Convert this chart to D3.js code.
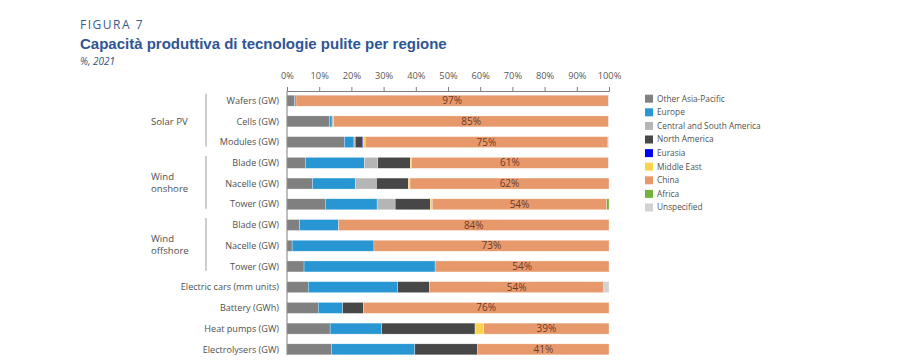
<!DOCTYPE html>
<html>
<head>
<meta charset="utf-8">
<script src="https://cdn.jsdelivr.net/npm/d3@7"></script>
<style>
  body { margin: 0; background: #fff; }
  svg { display: block; font-family: "Open Sans", "Noto Sans", sans-serif; }
</style>
</head>
<body>
<svg id="chart" width="903" height="360"></svg>
<script>
// ---- Data ----
const categories = ["Wafers (GW)", "Cells (GW)", "Modules (GW)", "Blade (GW)", "Nacelle (GW)", "Tower (GW)",
  "Blade (GW)", "Nacelle (GW)", "Tower (GW)", "Electric cars (mm units)", "Battery (GWh)", "Heat pumps (GW)", "Electrolysers (GW)"];
const groups = [
  { name: ["Solar PV"], from: 0, to: 2 },
  { name: ["Wind", "onshore"], from: 3, to: 5 },
  { name: ["Wind", "offshore"], from: 6, to: 8 }
];
const seriesNames = ["Other Asia-Pacific", "Europe", "Central and South America", "North America", "Eurasia", "Middle East", "China", "Africa", "Unspecified"];
const otherAsiaPacific = [2.4, 13.2, 17.8, 5.7, 7.9, 11.9, 3.9, 1.6, 5.3, 6.6, 9.7, 13.4, 13.8];
const europe           = [0.4, 0.8, 3.0, 18.3, 13.4, 16.1, 12.1, 25.4, 40.7, 27.8, 7.6, 16.0, 25.9];
const centralSouthAm   = [0, 0.5, 0.4, 4.2, 6.5, 5.6, 0, 0, 0, 0, 0, 0, 0];
const northAmerica     = [0, 0, 2.2, 10.1, 9.9, 10.9, 0, 0, 0, 9.8, 6.4, 29.0, 19.5];
const eurasia          = [0, 0, 0.3, 0, 0, 0, 0, 0, 0, 0, 0, 0, 0];
const middleEast       = [0, 0, 0.6, 0.3, 0.5, 0.6, 0, 0, 0, 0, 0, 2.7, 0];
const china            = [97.0, 85.4, 75.2, 61.2, 61.8, 54.2, 84.0, 73.0, 54.0, 54.2, 76.3, 38.9, 40.8];
const africa           = [0, 0, 0.3, 0, 0, 0.7, 0, 0, 0, 0, 0, 0, 0];
const unspecified      = [0.2, 0.1, 0.2, 0.2, 0, 0, 0, 0, 0, 1.6, 0, 0, 0];
const xTicks = [0, 10, 20, 30, 40, 50, 60, 70, 80, 90, 100];

const seriesValues = [otherAsiaPacific, europe, centralSouthAm, northAmerica, eurasia, middleEast, china, africa, unspecified];
const colors = ["#808080", "#2796d2", "#b5b5b5", "#474747", "#0000f0", "#fbd24e", "#e8996c", "#74b33a", "#d2d2d2"];

// ---- Build table ----
const rows = categories.map((c, i) => {
  const r = { idx: i, label: c };
  seriesNames.forEach((s, k) => r[s] = seriesValues[k][i]);
  return r;
});

const svg = d3.select("#chart");
const x = d3.scaleLinear().domain([0, 100]).range([287, 609]);
const y = d3.scaleBand().domain(d3.range(categories.length)).range([90.3, 359.7]).paddingInner(0.47).paddingOuter(0.235);
const color = d3.scaleOrdinal().domain(seriesNames).range(colors);

// Titles
svg.append("text").attr("x", 80).attr("y", 29).attr("fill", "#3b5a8c")
  .attr("font-size", 12).attr("letter-spacing", 1.5).attr("font-weight", 400).text("FIGURA 7");
svg.append("text").attr("x", 80).attr("y", 48.5).attr("fill", "#2f5597")
  .attr("font-size", 15).attr("font-weight", 700).attr("font-family", "Liberation Sans, Arial, sans-serif")
  .text("Capacità produttiva di tecnologie pulite per regione");
svg.append("text").attr("x", 80).attr("y", 65).attr("fill", "#2f4f80")
  .attr("font-size", 10).attr("font-style", "italic").text("%, 2021");

// Stack
const stack = d3.stack().keys(seriesNames);
const stacked = stack(rows);

svg.append("g").selectAll("g").data(stacked).join("g")
  .attr("fill", d => color(d.key))
  .selectAll("rect").data(d => d.filter(p => p[1] - p[0] > 0)).join("rect")
  .attr("x", d => x(d[0]))
  .attr("y", d => y(d.data.idx))
  .attr("width", d => x(d[1]) - x(d[0]))
  .attr("height", y.bandwidth())
  .attr("stroke", "#ffffff").attr("stroke-opacity", 0.6).attr("stroke-width", 0.5);

// China labels
const chinaLayer = stacked.find(s => s.key === "China");
svg.append("g").selectAll("text").data(chinaLayer).join("text")
  .attr("x", d => (x(d[0]) + x(d[1])) / 2)
  .attr("y", d => y(d.data.idx) + y.bandwidth() / 2)
  .attr("dy", "0.35em").attr("text-anchor", "middle")
  .attr("font-size", 10).attr("fill", "#6a3b27")
  .text(d => Math.round(d.data["China"]) + "%");

// Top axis
const axis = d3.axisTop(x).tickValues(xTicks).tickFormat(d => d + "%").tickSize(4).tickSizeOuter(4).tickPadding(8);
const gx = svg.append("g").attr("transform", "translate(0,91)").call(axis);
gx.select(".domain").attr("stroke", "#7f7f7f");
gx.selectAll(".tick line").attr("stroke", "#7f7f7f");
gx.selectAll(".tick text").attr("fill", "#595959").attr("font-size", 9.3).attr("font-family", "Open Sans, sans-serif");

// Vertical axis line
svg.append("line").attr("x1", x(0)).attr("x2", x(0)).attr("y1", 91).attr("y2", 355)
  .attr("stroke", "#7f7f7f").attr("stroke-width", 1);

// Category labels
svg.append("g").selectAll("text").data(rows).join("text")
  .attr("x", 279).attr("y", d => y(d.idx) + y.bandwidth() / 2).attr("dy", "0.35em")
  .attr("text-anchor", "end").attr("font-size", 9.1).attr("fill", "#505050")
  .text(d => d.label);

// Group labels & separators
const gg = svg.append("g");
groups.forEach(g => {
  gg.append("line").attr("x1", 206).attr("x2", 206)
    .attr("y1", y(g.from) - 1.5).attr("y2", y(g.to) + y.bandwidth() - 1)
    .attr("stroke", "#9a9a9a").attr("stroke-width", 1);
  const cy = y(g.from + 1) + y.bandwidth() / 2;
  const n = g.name.length;
  g.name.forEach((t, i) => {
    gg.append("text").attr("x", 151).attr("y", cy + (i - (n - 1) / 2) * 12.5 - (n > 1 ? 1 : 0)).attr("dy", "0.35em")
      .attr("font-size", 9.6).attr("fill", "#505050").text(t);
  });
});

// Legend
const lg = svg.append("g").attr("transform", "translate(645,98.7)");
seriesNames.forEach((s, i) => {
  const r = lg.append("g").attr("transform", `translate(0,${i * 13.6})`);
  r.append("rect").attr("x", 0).attr("y", -4).attr("width", 8).attr("height", 8).attr("fill", color(s));
  r.append("text").attr("x", 12).attr("y", 0).attr("dy", "0.35em").attr("font-size", 8.3).attr("fill", "#505050").text(s);
});
</script>
</body>
</html>
